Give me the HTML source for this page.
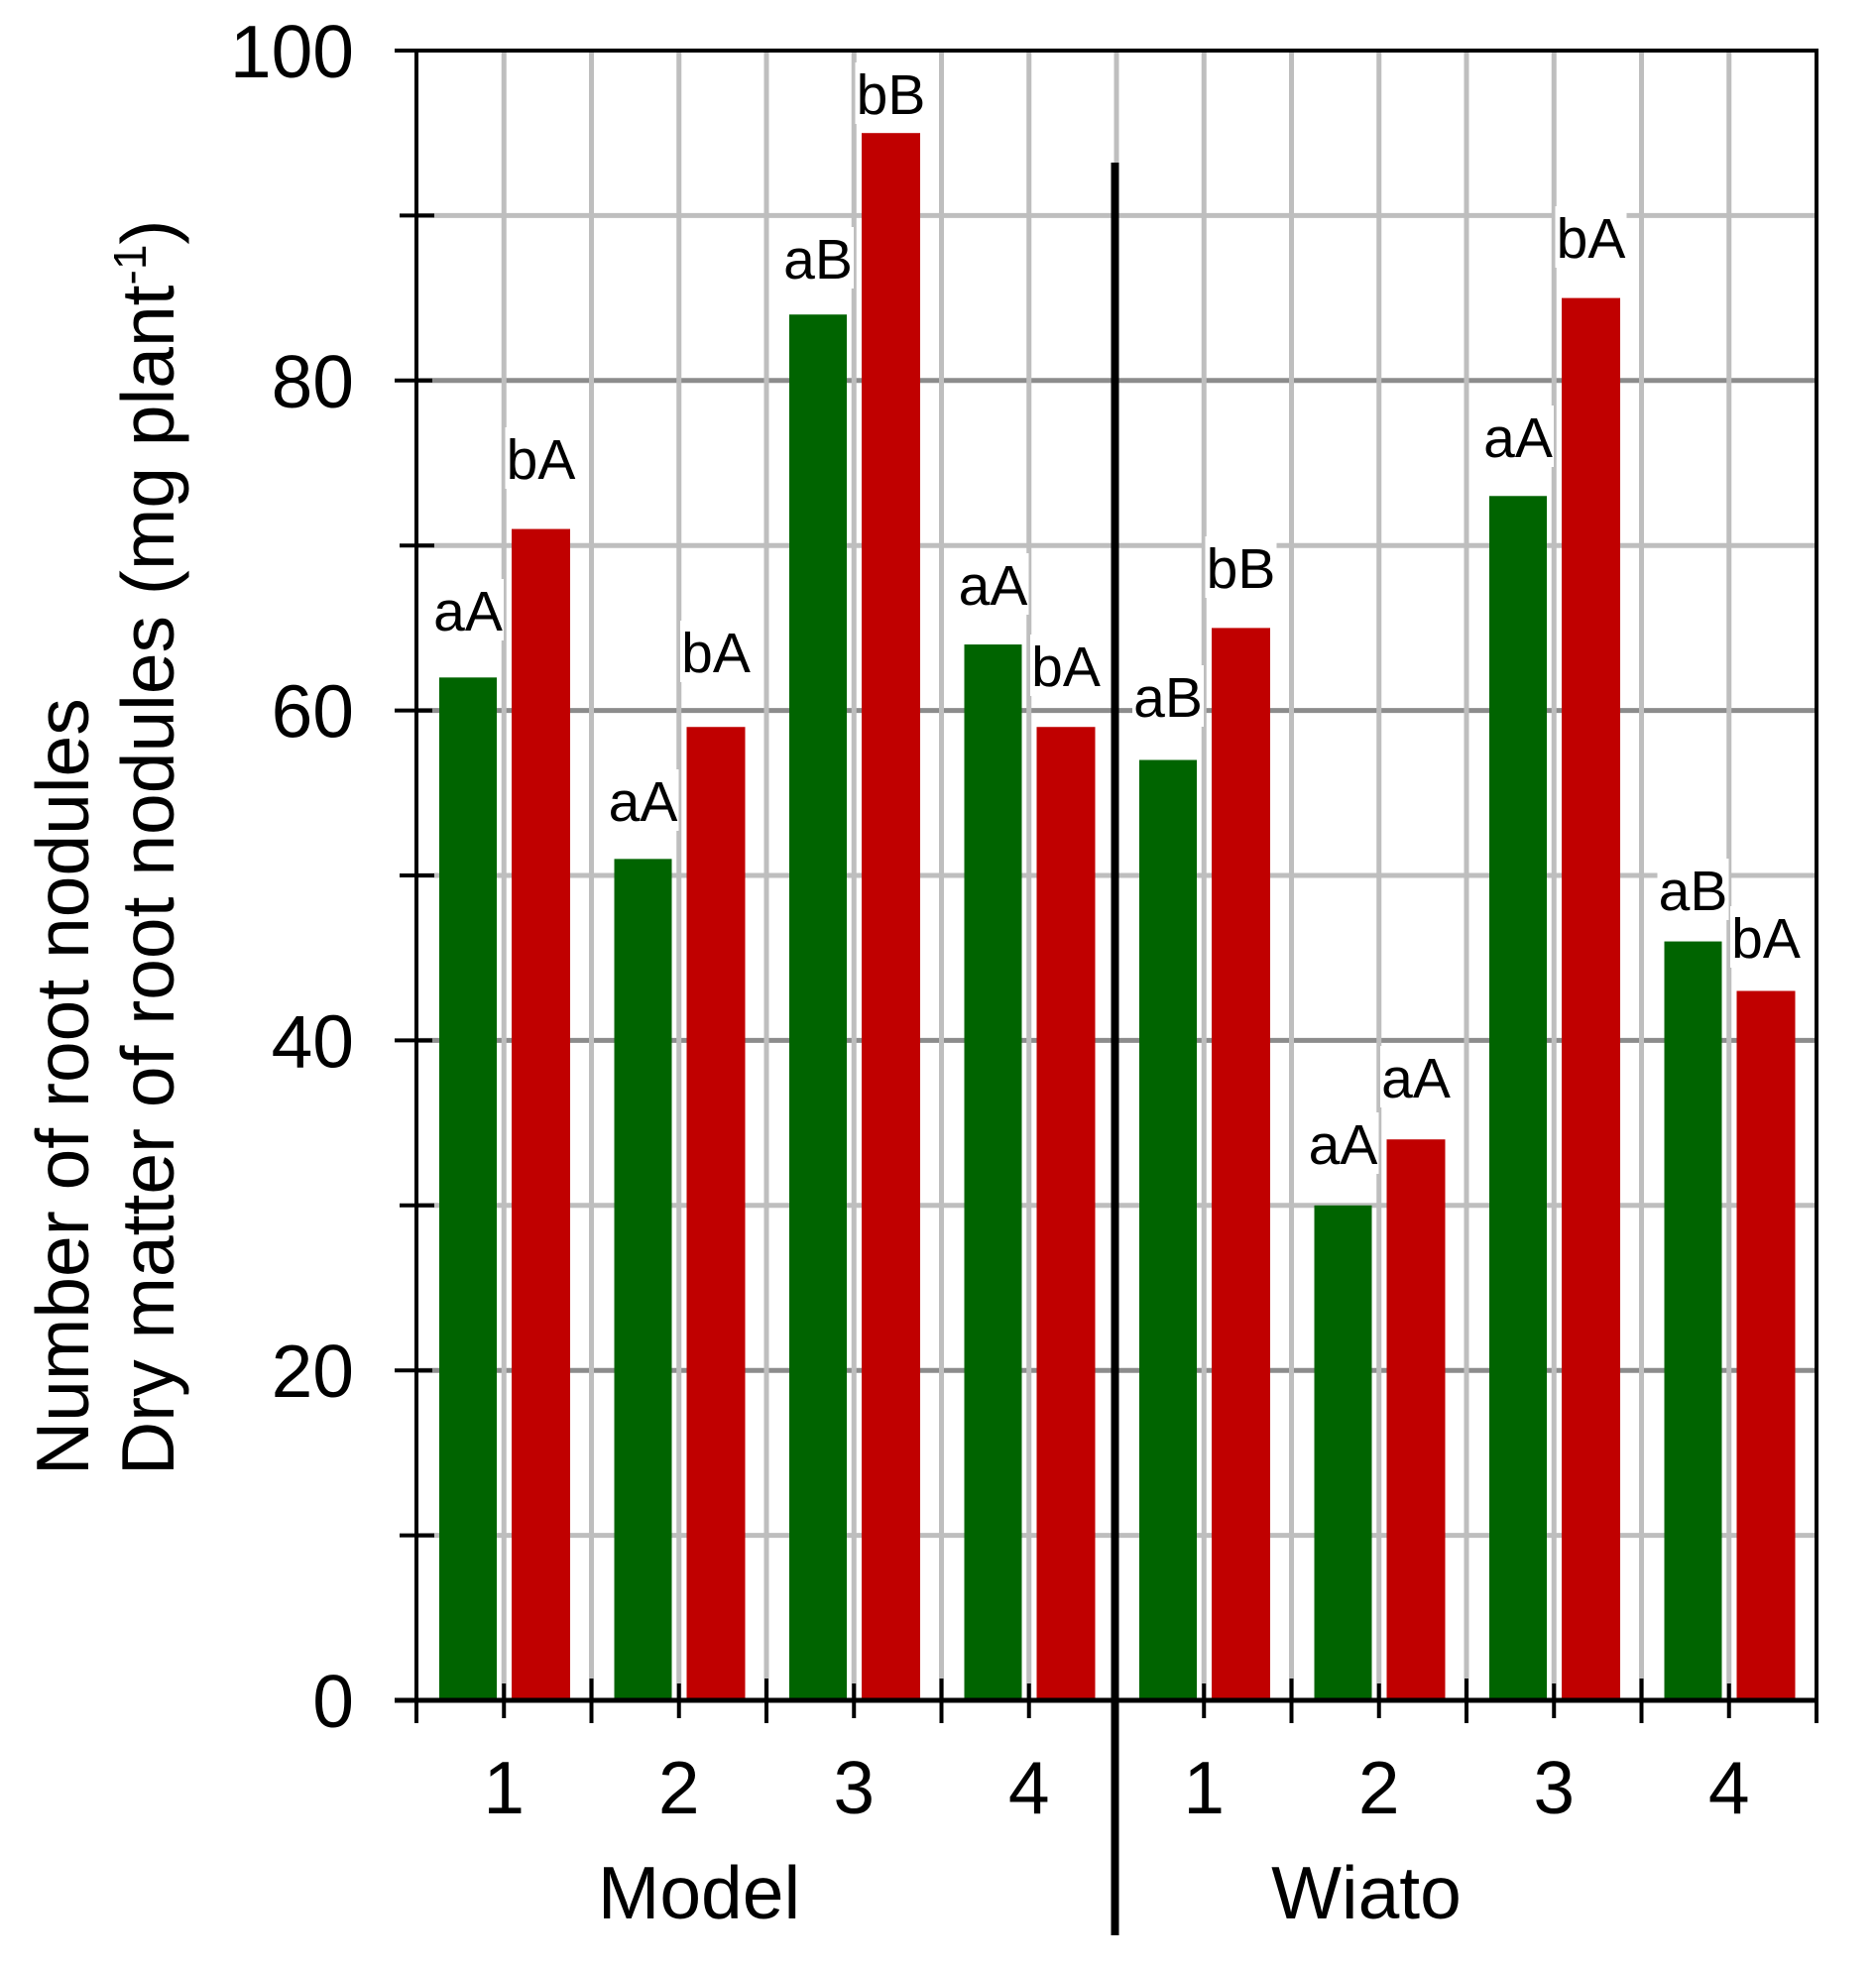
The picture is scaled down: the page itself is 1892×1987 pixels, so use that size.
<!DOCTYPE html>
<html><head><meta charset="utf-8"><style>html,body{margin:0;padding:0;background:#fff}svg{display:block}</style></head>
<body>
<svg width="1892" height="1987" viewBox="0 0 1892 1987" xmlns="http://www.w3.org/2000/svg" font-family="Liberation Sans, Arial, sans-serif">
<rect width="1892" height="1987" fill="#fff"/>
<g id="grid"></g>
<script>
(function(){
var NS="http://www.w3.org/2000/svg",svg=document.querySelector('svg');
function el(t,a,txt){var e=document.createElementNS(NS,t);for(var k in a)e.setAttribute(k,a[k]);if(txt!=null)e.textContent=txt;svg.appendChild(e);return e;}
var X0=420,X1=1832,Y0=1715,Y100=51,GW=(X1-X0)/8,U=(Y0-Y100)/100;
function y(v){return Y0-v*U;}
// horizontal gridlines
for(var v=10;v<100;v+=10){el('line',{x1:X0,x2:X1,y1:y(v),y2:y(v),stroke:(v%20==0)?'#8c8c8c':'#bebebe','stroke-width':5});}
// vertical gridlines
for(var i=1;i<16;i++){var x=X0+i*GW/2;el('line',{x1:x,x2:x,y1:Y100,y2:Y0,stroke:'#bebebe','stroke-width':5});}
var G=[62,51,84,64,57,30,73,46],R=[71,59,95,59,65,34,85,43];
var LG=["aA","aA","aB","aA","aB","aA","aA","aB"],LR=["bA","bA","bB","bA","bB","aA","bA","bA"];
var CG=[616,808,261,590,703,1154,441,898],CR=[463,658,95,672,573,1087,240,946];
// label backgrounds
for(var i=0;i<8;i++){var gs=X0+i*GW;
 [[gs+52,CG[i]],[gs+125.5,CR[i]]].forEach(function(p){el('rect',{x:p[0]-36,y:p[1]-32,width:72,height:62,fill:'#fff'});});}
for(var i=0;i<8;i++){var gs=X0+i*GW;
 el('rect',{x:gs+23,y:y(G[i]),width:58,height:G[i]*U,fill:'#006400'});
 el('rect',{x:gs+96,y:y(R[i]),width:59,height:R[i]*U,fill:'#c00000'});
 el('text',{x:gs+52,y:CG[i]+20,'font-size':57,'text-anchor':'middle'},LG[i]);
 el('text',{x:gs+125.5,y:CR[i]+20,'font-size':57,'text-anchor':'middle'},LR[i]);
}
// frame
el('line',{x1:X0,x2:X1+2,y1:Y100,y2:Y100,stroke:'#000','stroke-width':4});
el('line',{x1:X1,x2:X1,y1:Y100,y2:Y0,stroke:'#000','stroke-width':4});
el('line',{x1:X0,x2:X0,y1:Y100,y2:1738,stroke:'#000','stroke-width':4});
el('line',{x1:398,x2:X1+2,y1:Y0,y2:Y0,stroke:'#000','stroke-width':5});
// y ticks
for(var v=0;v<=100;v+=10){var maj=v%20==0;el('line',{x1:maj?398:403,x2:maj?436:438,y1:y(v),y2:y(v),stroke:'#000','stroke-width':4});
 if(maj)el('text',{x:357,y:y(v)+27,'font-size':75,'text-anchor':'end'},String(v));}
// x ticks
for(var i=0;i<=8;i++){var x=X0+i*GW;el('line',{x1:x,x2:x,y1:1693,y2:1738,stroke:'#000','stroke-width':4});}
for(var i=0;i<8;i++){var x=X0+i*GW+GW/2;el('line',{x1:x,x2:x,y1:1698,y2:1733,stroke:'#000','stroke-width':4});
 el('text',{x:x,y:1829,'font-size':75,'text-anchor':'middle'},String(i%4+1));}
el('text',{x:705,y:1935,'font-size':75,'text-anchor':'middle'},'Model');
el('text',{x:1378,y:1935,'font-size':75,'text-anchor':'middle'},'Wiato');
// separator
el('line',{x1:1124.5,x2:1124.5,y1:164,y2:1952,stroke:'#000','stroke-width':8});
// y title
el('text',{x:0,y:0,'font-size':75,'text-anchor':'start',transform:'translate(89,1488) rotate(-90)'},'Number of root nodules');
var t=el('text',{x:0,y:0,'font-size':75,'text-anchor':'start',transform:'translate(175,1488) rotate(-90)'},'Dry matter of root nodules (mg plant');
var s=document.createElementNS(NS,'tspan');s.setAttribute('font-size',46);s.setAttribute('dy',-28);s.textContent='-1';t.appendChild(s);
var s2=document.createElementNS(NS,'tspan');s2.setAttribute('dy',28);s2.textContent=')';t.appendChild(s2);
})();
</script>
</svg>
</body></html>
